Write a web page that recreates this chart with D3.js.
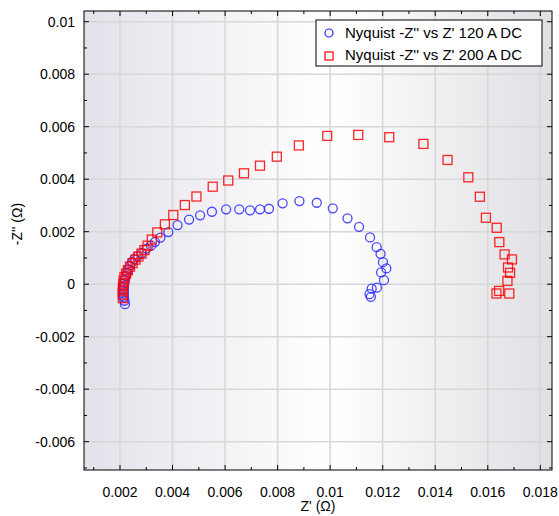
<!DOCTYPE html>
<html>
    <head>
        <meta charset="utf-8">
        <title>Nyquist plot</title>
        <script src="https://d3js.org/d3.v7.min.js"></script>
        <style>
            html, body {
                margin: 0;
                padding: 0;
                overflow: hidden;
                background-color: #FFFFFF;
                font-family: 'Liberation Sans', Arial, sans-serif;
            }
            svg {
                display: block;
            }
            .tick-label {
                font-size: 14px;
                fill: #000000;
            }
            .axis-title {
                font-size: 14px;
                fill: #000000;
            }
            .legend-text {
                font-size: 15px;
                fill: #000000;
            }
        </style>
    </head>
    <body>
        <svg id="chart"></svg>
        <script>
            // 120 A DC series
            const zReal120 = [
                0.00219, 0.00217, 0.00215, 0.00215, 0.00215, 0.00215, 0.00217, 0.00219, 0.00223, 0.00227,
                0.00232, 0.00238, 0.00246, 0.00255, 0.00267, 0.00282, 0.00301, 0.00318, 0.00333, 0.00354,
                0.00384, 0.00419, 0.00463, 0.00505, 0.00550, 0.00604, 0.00654, 0.00695, 0.00733, 0.00767,
                0.00819, 0.00883, 0.00949, 0.01010, 0.01066, 0.01110, 0.01152, 0.01177, 0.01192, 0.01201,
                0.01214, 0.01194, 0.01205, 0.01178, 0.01158, 0.01150, 0.01155
            ];
            const zImag120 = [
                -0.000763, -0.000630, -0.000496, -0.000363, -0.000229, -0.000095, 0.000038, 0.000172, 0.000305, 0.000439,
                0.000573, 0.000706, 0.000840, 0.000954, 0.001069, 0.001183, 0.001355, 0.001469, 0.001603, 0.001775,
                0.001985, 0.002252, 0.002462, 0.002622, 0.002760, 0.002851, 0.002851, 0.002813, 0.002851, 0.002874,
                0.003080, 0.003168, 0.003103, 0.002889, 0.002508, 0.002187, 0.001782, 0.001412, 0.001156, 0.000840,
                0.000599, 0.000447, 0.000153, -0.000134, -0.000172, -0.000382, -0.000485
            ];

            // 200 A DC series
            const zReal200 = [
                0.00211, 0.00211, 0.00211, 0.00211, 0.00213, 0.00214, 0.00217, 0.00223, 0.00230, 0.00238,
                0.00248, 0.00259, 0.00270, 0.00282, 0.00293, 0.00305, 0.00321, 0.00342, 0.00371, 0.00403,
                0.00447, 0.00491, 0.00553, 0.00612, 0.00672, 0.00733, 0.00797, 0.00881, 0.00989, 0.01107,
                0.01225, 0.01355, 0.01447, 0.01526, 0.01570, 0.01593, 0.01634, 0.01644, 0.01664, 0.01692,
                0.01677, 0.01685, 0.01675, 0.01643, 0.01633, 0.01682
            ];
            const zImag200 = [
                -0.000534, -0.000401, -0.000267, -0.000134, 0.000000, 0.000134, 0.000267, 0.000401, 0.000534, 0.000668,
                0.000802, 0.000935, 0.001050, 0.001164, 0.001298, 0.001469, 0.001698, 0.001973, 0.002279, 0.002634,
                0.003015, 0.003340, 0.003714, 0.003950, 0.004225, 0.004515, 0.004859, 0.005286, 0.005649, 0.005687,
                0.005599, 0.005344, 0.004733, 0.004073, 0.003332, 0.002531, 0.002149, 0.001603, 0.001134, 0.000943,
                0.000637, 0.000431, 0.000126, -0.000256, -0.000355, -0.000355
            ];

            const seriesNames = ["Nyquist -Z'' vs Z' 120 A DC", "Nyquist -Z'' vs Z' 200 A DC"];

            const xTicks = [0.002, 0.004, 0.006, 0.008, 0.010, 0.012, 0.014, 0.016, 0.018];
            const xTickLabels = ["0.002", "0.004", "0.006", "0.008", "0.01", "0.012", "0.014", "0.016", "0.018"];
            const yTicks = [0.010, 0.008, 0.006, 0.004, 0.002, 0, -0.002, -0.004, -0.006];
            const yTickLabels = ["0.01", "0.008", "0.006", "0.004", "0.002", "0", "-0.002", "-0.004", "-0.006"];
            const xMinorTicks = [0.001, 0.003, 0.005, 0.007, 0.009, 0.011, 0.013, 0.015, 0.017];
            const yMinorTicks = [0.009, 0.007, 0.005, 0.003, 0.001, -0.001, -0.003, -0.005, -0.007];

            const width = 559;
            const height = 516;
            const margin = { top: 11, right: 7, bottom: 46, left: 84 };
            const innerWidth = width - margin.left - margin.right;
            const innerHeight = height - margin.top - margin.bottom;

            const svg = d3.select("#chart")
                .attr("width", width)
                .attr("height", height);

            const x = d3.scaleLinear()
                .domain([0.00063, 0.018445])
                .range([0, innerWidth]);

            const y = d3.scaleLinear()
                .domain([-0.007079, 0.010408])
                .range([innerHeight, 0]);

            const defs = svg.append("defs");
            const grad = defs.append("linearGradient")
                .attr("id", "bg")
                .attr("x1", "0%").attr("x2", "100%")
                .attr("y1", "0%").attr("y2", "0%");
            grad.append("stop").attr("offset", "0%").attr("stop-color", "#e2e2ea");
            grad.append("stop").attr("offset", "52%").attr("stop-color", "#ffffff");
            grad.append("stop").attr("offset", "100%").attr("stop-color", "#e0e0e5");

            defs.append("clipPath")
                .attr("id", "plot-clip")
                .append("rect")
                .attr("width", innerWidth)
                .attr("height", innerHeight);

            const g = svg.append("g")
                .attr("transform", `translate(${margin.left}, ${margin.top})`);

            g.append("rect")
                .attr("width", innerWidth)
                .attr("height", innerHeight)
                .attr("fill", "url(#bg)");

            // grid lines
            g.selectAll(".grid-x")
                .data(xTicks)
                .enter()
                .append("line")
                .attr("class", "grid-x")
                .attr("x1", d => x(d)).attr("x2", d => x(d))
                .attr("y1", 0).attr("y2", innerHeight)
                .attr("stroke", "#d8d8d8")
                .attr("stroke-width", 1.6);

            g.selectAll(".grid-y")
                .data(yTicks)
                .enter()
                .append("line")
                .attr("class", "grid-y")
                .attr("x1", 0).attr("x2", innerWidth)
                .attr("y1", d => y(d)).attr("y2", d => y(d))
                .attr("stroke", "#d8d8d8")
                .attr("stroke-width", 1.6);

            // ticks on all four sides, pointing inwards
            [{ values: xTicks, len: 5 }, { values: xMinorTicks, len: 3 }].forEach(t => {
                g.selectAll(null).data(t.values).enter().append("line")
                    .attr("x1", d => x(d)).attr("x2", d => x(d))
                    .attr("y1", innerHeight).attr("y2", innerHeight - t.len)
                    .attr("stroke", "#000");
                g.selectAll(null).data(t.values).enter().append("line")
                    .attr("x1", d => x(d)).attr("x2", d => x(d))
                    .attr("y1", 0).attr("y2", t.len)
                    .attr("stroke", "#000");
            });
            [{ values: yTicks, len: 5 }, { values: yMinorTicks, len: 3 }].forEach(t => {
                g.selectAll(null).data(t.values).enter().append("line")
                    .attr("x1", 0).attr("x2", t.len)
                    .attr("y1", d => y(d)).attr("y2", d => y(d))
                    .attr("stroke", "#000");
                g.selectAll(null).data(t.values).enter().append("line")
                    .attr("x1", innerWidth).attr("x2", innerWidth - t.len)
                    .attr("y1", d => y(d)).attr("y2", d => y(d))
                    .attr("stroke", "#000");
            });

            // tick labels
            g.selectAll(".x-label")
                .data(xTicks)
                .enter()
                .append("text")
                .attr("class", "tick-label")
                .attr("x", d => x(d))
                .attr("y", innerHeight + 27)
                .attr("text-anchor", "middle")
                .text((d, i) => xTickLabels[i]);

            g.selectAll(".y-label")
                .data(yTicks)
                .enter()
                .append("text")
                .attr("class", "tick-label")
                .attr("x", -9)
                .attr("y", d => y(d) + 5)
                .attr("text-anchor", "end")
                .text((d, i) => yTickLabels[i]);

            // axis titles
            svg.append("text")
                .attr("class", "axis-title")
                .attr("x", margin.left + innerWidth / 2)
                .attr("y", 511)
                .attr("text-anchor", "middle")
                .text("Z' (Ω)");

            svg.append("text")
                .attr("class", "axis-title")
                .attr("transform", "translate(22, 224) rotate(-90)")
                .attr("text-anchor", "middle")
                .text("-Z'' (Ω)");

            // data
            const plot = g.append("g").attr("clip-path", "url(#plot-clip)");

            plot.selectAll(".pt120")
                .data(d3.zip(zReal120, zImag120))
                .enter()
                .append("circle")
                .attr("class", "pt120")
                .attr("cx", d => x(d[0]))
                .attr("cy", d => y(d[1]))
                .attr("r", 4.5)
                .attr("fill", "none")
                .attr("stroke", "#2828ff")
                .attr("stroke-opacity", 0.85)
                .attr("stroke-width", 1.3);

            plot.selectAll(".pt200")
                .data(d3.zip(zReal200, zImag200))
                .enter()
                .append("rect")
                .attr("class", "pt200")
                .attr("x", d => x(d[0]) - 4.5)
                .attr("y", d => y(d[1]) - 4.5)
                .attr("width", 9)
                .attr("height", 9)
                .attr("fill", "none")
                .attr("stroke", "#ff0000")
                .attr("stroke-opacity", 0.85)
                .attr("stroke-width", 1.3);

            // plot frame
            g.append("rect")
                .attr("width", innerWidth)
                .attr("height", innerHeight)
                .attr("fill", "none")
                .attr("stroke", "#000")
                .attr("stroke-width", 1);

            // legend
            const legend = svg.append("g")
                .attr("transform", "translate(316, 20)");

            legend.append("rect")
                .attr("width", 226)
                .attr("height", 46)
                .attr("fill", "#ffffff")
                .attr("stroke", "#000")
                .attr("stroke-width", 1);

            legend.append("circle")
                .attr("cx", 13).attr("cy", 13).attr("r", 4)
                .attr("fill", "none").attr("stroke", "#2828ff").attr("stroke-width", 1.2);

            legend.append("rect")
                .attr("x", 9).attr("y", 32).attr("width", 8).attr("height", 8)
                .attr("fill", "none").attr("stroke", "#ff0000").attr("stroke-width", 1.2);

            legend.selectAll(".legend-text")
                .data(seriesNames)
                .enter()
                .append("text")
                .attr("class", "legend-text")
                .attr("x", 29)
                .attr("y", (d, i) => 18 + i * 22)
                .text(d => d);
        </script>
    </body>
</html>
